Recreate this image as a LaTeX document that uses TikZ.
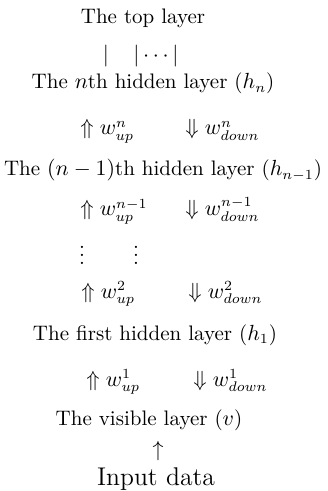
\documentclass[tikz,border=0pt]{standalone}
\usepackage{tikz}
\usetikzlibrary{positioning}

\begin{document}
\begin{tikzpicture}[x=0.5pt, y=-0.5pt,
  layer/.style={inner sep=0pt, anchor=base, font=\fontsize{10.5}{12}\selectfont},
  weight/.style={inner sep=0pt, anchor=base west, font=\fontsize{10.5}{12}\selectfont},
  gap/.style={inner sep=0pt, font=\fontsize{10.5}{12}\selectfont}]

  \useasboundingbox (0,0) rectangle (327,491);

  \node[layer] (top) at (143,24) {The top layer};
  \node[gap] (barl) at (106,56) {$|$};
  \node[gap] (barr) at (156,56) {$|\cdots|$};

  \node[layer] (hn) at (153,89) {The $n$th hidden layer ($h_n$)};
  \node[weight] (upn) at (80,135) {$\Uparrow w^{n}_{up}$};
  \node[weight] (downn) at (185,135) {$\Downarrow w^{n}_{down}$};

  \node[layer] (hnm) at (163,176) {The $(n-1)$th hidden layer ($h_{n-1}$)};
  \node[weight] (upnm) at (80,216) {$\Uparrow w^{n-1}_{up}$};
  \node[weight] (downnm) at (185,216) {$\Downarrow w^{n-1}_{down}$};

  \node[gap] (vdotsl) at (82,249) {$\vdots$};
  \node[gap] (vdotsr) at (136,249) {$\vdots$};

  \node[weight] (uptwo) at (81,298) {$\Uparrow w^{2}_{up}$};
  \node[weight] (downtwo) at (188,298) {$\Downarrow w^{2}_{down}$};

  \node[layer] (hone) at (155,340) {The first hidden layer ($h_1$)};
  \node[weight] (upone) at (86,386) {$\Uparrow w^{1}_{up}$};
  \node[weight] (downone) at (193,386) {$\Downarrow w^{1}_{down}$};

  \node[layer] (vis) at (149,425) {The visible layer ($v$)};
  \node[gap] (inarrow) at (158,451) {$\uparrow$};
  \node[layer, font=\fontsize{12.8}{15}\selectfont] (input) at (156,485) {Input data};

\end{tikzpicture}
\end{document}
